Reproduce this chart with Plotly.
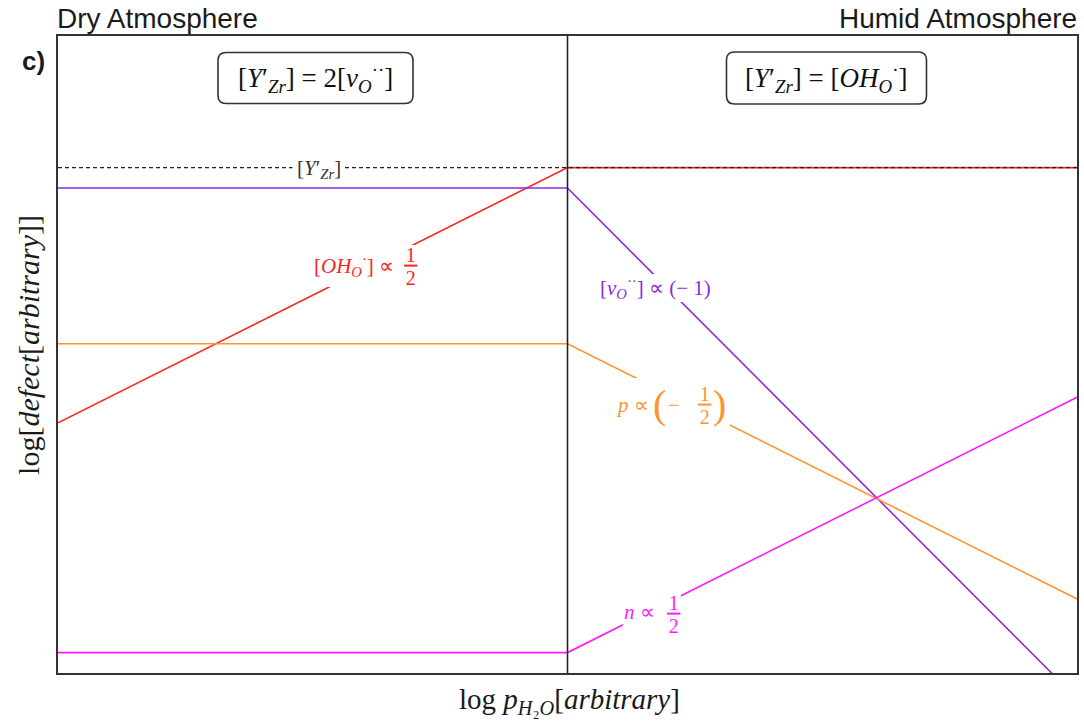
import plotly.graph_objects as go

# Brouwer diagram for an acceptor-doped zirconate: log[defect] vs log p(H2O)
# Breakpoints on the log p(H2O) axis: dry regime 0..1, humid regime 1..2
log_ph2o = [0.0, 1.0, 2.0]

acceptor_Y_Zr = [0.99, 0.99, 0.99]      # [Y'_Zr]  (dopant, constant)
vacancy_v_O = [0.95, 0.95, -0.05]       # [v_O..]  slope 0 -> -1
proton_OH_O = [0.49, 0.99, 0.99]        # [OH_O.]  slope 1/2 -> 0
holes_p = [0.645, 0.645, 0.145]         # p        slope 0 -> -1/2
electrons_n = [0.04, 0.04, 0.54]        # n        slope 0 -> +1/2

X_RANGE = [0.0, 2.0]
Y_RANGE = [0.0, 1.2478]
REGIME_BOUNDARY = 1.0

RED = "#ff2222"
PURPLE = "#8a2be2"
ORANGE = "#ff9430"
MAGENTA = "#ff1aff"
SERIF = "Liberation Serif"
SANS = "Liberation Sans"

fig = go.Figure()

series = [
    (proton_OH_O, RED, "[OH_O]"),
    (vacancy_v_O, PURPLE, "[v_O]"),
    (holes_p, ORANGE, "p"),
    (electrons_n, MAGENTA, "n"),
]
for ys, col, name in series:
    fig.add_trace(go.Scatter(x=log_ph2o, y=ys, mode="lines", name=name,
                             line=dict(color=col, width=1.6), showlegend=False))

# dopant level, dashed, drawn on top of the proton line
fig.add_trace(go.Scatter(x=log_ph2o, y=acceptor_Y_Zr, mode="lines", name="[Y'_Zr]",
                         line=dict(color="#222222", width=1.3, dash="4px,3px"),
                         showlegend=False))

shapes = []
annotations = []

# boundary between dry and humid regimes
shapes.append(dict(type="line", xref="x", yref="paper", x0=REGIME_BOUNDARY, x1=REGIME_BOUNDARY,
                   y0=0, y1=1, line=dict(color="#222222", width=1.6), layer="above"))


def white_box(x, y, w, h, dx=0, dy=0):
    shapes.append(dict(type="rect", xref="x", yref="y", xsizemode="pixel", ysizemode="pixel",
                       xanchor=x, yanchor=y, x0=dx - w / 2, x1=dx + w / 2,
                       y0=-dy - h / 2, y1=-dy + h / 2,
                       fillcolor="white", line=dict(width=0), layer="above"))


def round_box(x, y, w, h, r=8):
    hw, hh = w / 2, h / 2
    path = (f"M {-hw + r},{hh} L {hw - r},{hh} Q {hw},{hh} {hw},{hh - r} "
            f"L {hw},{-hh + r} Q {hw},{-hh} {hw - r},{-hh} "
            f"L {-hw + r},{-hh} Q {-hw},{-hh} {-hw},{-hh + r} "
            f"L {-hw},{hh - r} Q {-hw},{hh} {-hw + r},{hh} Z")
    shapes.append(dict(type="path", xref="x", yref="y", xsizemode="pixel", ysizemode="pixel",
                       xanchor=x, yanchor=y, path=path, fillcolor="white",
                       line=dict(color="#333333", width=1.6), layer="above"))


def txt(x, y, text, dx=0, dy=0, size=22, color="black", family=SERIF, xanchor="center"):
    annotations.append(dict(x=x, y=y, xref="x", yref="y", text=text, showarrow=False,
                            xshift=dx, yshift=-dy, xanchor=xanchor, yanchor="middle",
                            font=dict(family=family, size=size, color=color)))


# stacked 1/2: numerator line, then denominator with an overline as the bar
HALF = ("<span style='font-size:20px'>1</span><br>"
        "<span style='font-size:20px;text-decoration:overline'>\u200a2\u200a</span>")


def fraction(x, y, dx, dy, color):
    txt(x, y, HALF, dx=dx, dy=dy, size=17.4, color=color)


Y_ZR = "[<i>Y</i>′<sub><i>Zr</i></sub>]"

# charge-neutrality boxes
round_box(0.5054, 1.1655, 195, 51)
txt(0.5054, 1.1655, Y_ZR + " = 2[<i>v</i><sub><i>O</i></sub><sup>··</sup>]", size=27, color="#111111")
round_box(1.5083, 1.1655, 200, 52)
txt(1.5083, 1.1655, Y_ZR + " = [<i>OH</i><sub><i>O</i></sub><sup>·</sup>]", size=27, color="#111111")

# dopant label on the dashed line
white_box(0.5113, 0.99, 52, 30, dy=1)
txt(0.5113, 0.99, Y_ZR, dy=1, size=21, color="#333333")

# [OH_O] label
ox, oy = 0.6033, 0.7973
white_box(ox, oy, 108, 42)
txt(ox, oy, "[<i>OH</i><sub><i>O</i></sub><sup>·</sup>] ∝", dx=-11, size=21, color=RED)
fraction(ox, oy, 45, 1, RED)

# [v_O] label
vx, vy = 1.1734, 0.7542
white_box(vx, vy, 120, 28)
txt(vx, vy, "[<i>v</i><sub><i>O</i></sub><sup>··</sup>] ∝ (− 1)", size=21, color=PURPLE)

# p label
px_, py_ = 1.2086, 0.5250
white_box(px_, py_, 112, 54)
txt(px_, py_, "<i>p</i> ∝", dx=-41, size=21, color=ORANGE)
txt(px_, py_, "(", dx=-14, size=40, color=ORANGE)
txt(px_, py_, "−", dx=0, size=21, color=ORANGE)
fraction(px_, py_, 31, 1, ORANGE)
txt(px_, py_, ")", dx=46, size=40, color=ORANGE)

# n label
nx, ny = 1.1655, 0.1195
white_box(nx, ny, 58, 48)
txt(nx, ny, "<i>n</i> ∝", dx=-12, size=21, color=MAGENTA)
fraction(nx, ny, 22, 2, MAGENTA)

# headings and panel tag
annotations.append(dict(x=0, y=1, xref="paper", yref="paper", text="Dry Atmosphere",
                        showarrow=False, xanchor="left", yanchor="middle", xshift=-3, yshift=18,
                        font=dict(family=SANS, size=28, color="#1a1a1a")))
annotations.append(dict(x=1, y=1, xref="paper", yref="paper", text="Humid Atmosphere",
                        showarrow=False, xanchor="right", yanchor="middle", xshift=2, yshift=18,
                        font=dict(family=SANS, size=28, color="#1a1a1a")))
annotations.append(dict(x=0, y=1, xref="paper", yref="paper", text="<b>c)</b>",
                        showarrow=False, xanchor="left", yanchor="middle", xshift=-38, yshift=-25,
                        font=dict(family=SANS, size=26, color="#1a1a1a")))

# axis titles
annotations.append(dict(x=0.5015, y=0, xref="paper", yref="paper",
                        text="log <i>p</i><sub><i>H</i>₂<i>O</i></sub>[<i>arbitrary</i>]",
                        showarrow=False, xanchor="center", yanchor="middle", yshift=-28,
                        font=dict(family=SERIF, size=29, color="#1a1a1a")))
annotations.append(dict(x=0, y=0.515, xref="paper", yref="paper",
                        text="log[<i>defect</i>[<i>arbitrary</i>]]", textangle=-90,
                        showarrow=False, xanchor="center", yanchor="middle", xshift=-29,
                        font=dict(family=SERIF, size=30, color="#1a1a1a")))

axis_common = dict(showgrid=False, zeroline=False, showticklabels=False, ticks="",
                   showline=True, mirror=True, linecolor="#333333", linewidth=2)
fig.update_layout(
    width=1084, height=722,
    margin=dict(l=58, r=5, t=36, b=49),
    plot_bgcolor="white", paper_bgcolor="white",
    xaxis=dict(range=X_RANGE, **axis_common),
    yaxis=dict(range=Y_RANGE, **axis_common),
    shapes=shapes, annotations=annotations,
)

fig.write_html("out.html")
